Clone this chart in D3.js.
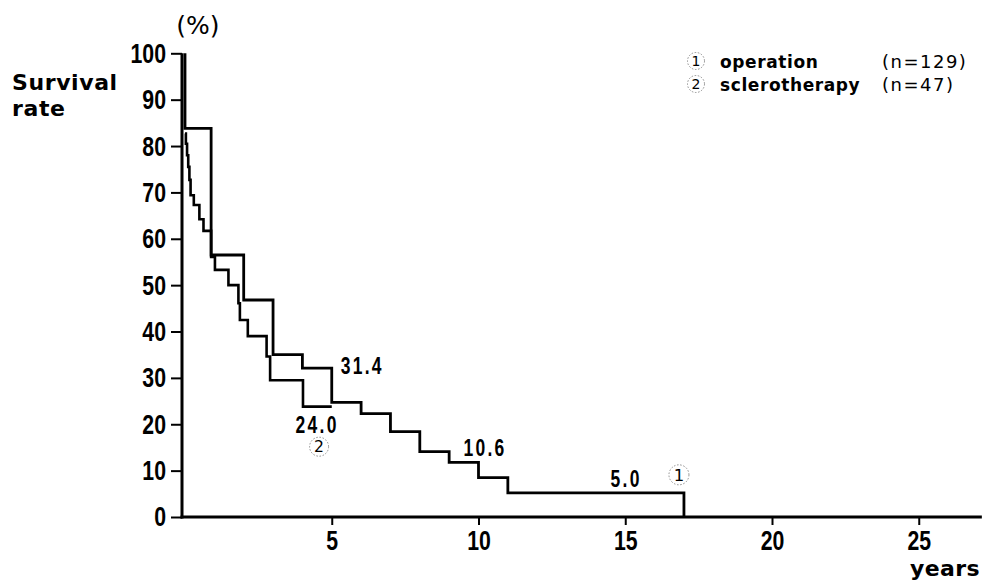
<!DOCTYPE html>
<html><head><meta charset="utf-8">
<script src="https://cdn.jsdelivr.net/npm/d3@7"></script>
<style>
body{margin:0;background:#fff;}
svg{display:block;}
.num{font-family:"Liberation Sans",Arial,Helvetica,sans-serif;font-weight:bold;fill:#000;}
.lab{font-family:"DejaVu Sans",sans-serif;font-weight:bold;fill:#000;}
.reg{font-family:"DejaVu Sans",sans-serif;fill:#000;}
</style></head><body>
<svg id="c" width="986" height="581"></svg>
<script>
// ---- data ----
const opTimes  = [0, 0, 0.89, 2, 3, 4, 5, 6, 7, 8, 9, 10, 11, 17];
const opValues = [100, 83.8, 56.5, 46.8, 35.0, 32.1, 24.7, 22.3, 18.4, 14.1, 11.8, 8.5, 5.2, 0];
const scTimes  = [0, 0.03, 0.07, 0.11, 0.15, 0.19, 0.30, 0.49, 0.63, 0.89, 1.02, 1.48, 1.82, 1.87, 2.14, 2.78, 2.90, 4.02, 5.0];
const scValues = [82.7, 80.5, 78, 75.5, 72.7, 69.4, 67.3, 64.2, 61.7, 56.1, 53.3, 50.0, 46.1, 42.5, 39.0, 34.6, 29.5, 23.8, 23.8];
const yTicks = [0, 10, 20, 30, 40, 50, 60, 70, 80, 90, 100];
const xTicks = [5, 10, 15, 20, 25];
const annoText = ["31.4", "24.0", "10.6", "5.0"];
const annoTime = [5, 4.5, 10, 14.5];
const annoValue = [31.4, 24.0, 10.6, 5.0];
const legendNames = ["operation", "sclerotherapy"];
const legendN = ["(n=129)", "(n=47)"];
const legendNum = ["1", "2"];

const svg = d3.select("#c");
const x = d3.scaleLinear().domain([0, 27.15]).range([185, 185 + 27.15 * 29.35]);
const y = d3.scaleLinear().domain([0, 100]).range([517, 53.3]);
const axisX0 = 182;
const SX = 0.76; // condensed look of the numerals

// axes
const yAxis = svg.append("g").attr("transform", `translate(${axisX0},0)`)
  .call(d3.axisLeft(y).tickValues(yTicks).tickSize(11).tickSizeOuter(0).tickPadding(5));
yAxis.select(".domain").remove();
yAxis.selectAll(".tick line").attr("stroke", "#000").attr("stroke-width", 2);
yAxis.selectAll(".tick text").each(function () {
  const t = d3.select(this); const tx = +t.attr("x");
  t.attr("x", 0).attr("transform", `translate(${tx},0) scale(${SX},1)`)
   .attr("class", "num").style("font-size", "28px").attr("fill", "#000");
});

const xAxis = svg.append("g").attr("transform", `translate(0,${y(0)})`)
  .call(d3.axisBottom(x).tickValues(xTicks).tickSize(8).tickSizeOuter(0).tickPadding(5));
xAxis.select(".domain").remove();
xAxis.selectAll(".tick line").attr("stroke", "#000").attr("stroke-width", 2);
xAxis.selectAll(".tick text").each(function () {
  const t = d3.select(this); const ty = +t.attr("y");
  t.attr("y", 0).attr("transform", `translate(0,${ty}) scale(${SX},1)`)
   .attr("class", "num").style("font-size", "28px").attr("fill", "#000");
});

svg.append("line").attr("x1", axisX0).attr("x2", axisX0).attr("y1", y(100)).attr("y2", y(0) + 1.5)
  .attr("stroke", "#000").attr("stroke-width", 3);
svg.append("line").attr("x1", axisX0 - 1.5).attr("x2", x(27.15)).attr("y1", y(0)).attr("y2", y(0))
  .attr("stroke", "#000").attr("stroke-width", 3.2);

// curves
const line = d3.line().x(d => x(d[0])).y(d => y(d[1])).curve(d3.curveStepAfter);
svg.append("path").datum(scTimes.map((t, i) => [t, scValues[i]]))
  .attr("d", line).attr("fill", "none").attr("stroke", "#000").attr("stroke-width", 2.6);
svg.append("path").datum(opTimes.map((t, i) => [t, opValues[i]]))
  .attr("d", line).attr("fill", "none").attr("stroke", "#000").attr("stroke-width", 2.8);

// annotations
const annoDx = [9, 0, -15, 0];
const annoDy = [3, 27, -12, -7];
const annoAnchor = ["start", "middle", "start", "start"];
annoText.forEach((s, i) => {
  svg.append("text").attr("class", "num").style("font-size", "23px").style("letter-spacing", "3px")
    .attr("transform", `translate(${x(annoTime[i]) + annoDx[i]},${y(annoValue[i]) + annoDy[i]}) scale(${SX},1)`)
    .attr("text-anchor", annoAnchor[i]).text(s);
});

function circled(cx, cy, d, r) {
  svg.append("circle").attr("cx", cx).attr("cy", cy).attr("r", r)
    .attr("fill", "none").attr("stroke", "#777").attr("stroke-width", 0.8).attr("stroke-dasharray", "1.6,1.6");
  svg.append("text").attr("class", "reg").style("font-size", (r * 1.65) + "px")
    .attr("x", cx).attr("y", cy).attr("dy", "0.36em").attr("text-anchor", "middle").text(d);
}
circled(x(4.5) + 2, y(annoValue[1]) + 41, legendNum[1], 9.5);
circled(x(17) - 5, y(annoValue[3]) - 19, legendNum[0], 10);

// legend
legendNames.forEach((n, i) => {
  const by = 68 + i * 23;
  circled(696, by - 7, legendNum[i], 8.5);
  svg.append("text").attr("class", "lab").style("font-size", "17px").style("letter-spacing", "0.6px")
    .attr("x", 720).attr("y", by).text(n);
  svg.append("text").attr("class", "reg").style("font-size", "18px").style("letter-spacing", "1.5px")
    .attr("x", 882).attr("y", by).text(legendN[i]);
});

// axis titles
svg.append("text").attr("class", "reg").style("font-size", "25px").attr("x", 198).attr("y", 33.5)
  .attr("text-anchor", "middle").text("(%)");
svg.append("text").attr("class", "lab").style("font-size", "22px").style("letter-spacing", "0.6px")
  .attr("x", 12).attr("y", 89.5).text("Survival");
svg.append("text").attr("class", "lab").style("font-size", "22px").style("letter-spacing", "0.6px")
  .attr("x", 12).attr("y", 116).text("rate");
svg.append("text").attr("class", "lab").style("font-size", "22px").style("letter-spacing", "0.4px")
  .attr("x", 980).attr("y", 576).attr("text-anchor", "end").text("years");
</script>
</body></html>
